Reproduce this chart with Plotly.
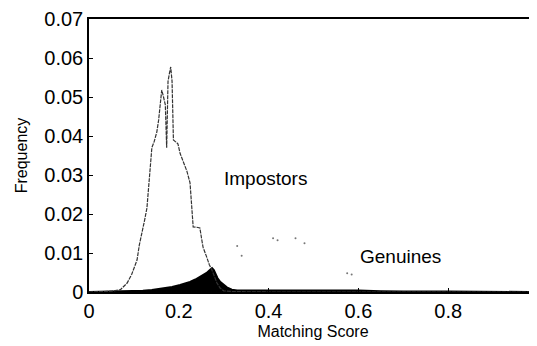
import plotly.graph_objects as go

# Impostor score distribution
imp_x = [0.0, 0.05, 0.07, 0.085, 0.095, 0.107, 0.112, 0.118, 0.124, 0.129, 0.133, 0.136,
         0.14, 0.145, 0.151, 0.155, 0.158, 0.162, 0.166, 0.170, 0.173, 0.176, 0.179,
         0.182, 0.185, 0.188, 0.193, 0.198, 0.203, 0.210, 0.218, 0.225, 0.229, 0.232,
         0.240, 0.247, 0.251, 0.254, 0.262, 0.268, 0.274, 0.280, 0.285, 0.292, 0.300,
         0.32, 0.4, 0.6, 1.0]
imp_y = [0.0, 0.0002, 0.0006, 0.0023, 0.0045, 0.0082, 0.0120, 0.0150, 0.0185, 0.0215, 0.0270, 0.0330,
         0.0370, 0.0385, 0.0410, 0.0440, 0.0467, 0.0518, 0.0500, 0.0480, 0.0370, 0.0540, 0.0560,
         0.0577, 0.0540, 0.0390, 0.0385, 0.0380, 0.0355, 0.0335, 0.0310, 0.0280, 0.0220, 0.0167,
         0.0166, 0.0164, 0.0135, 0.0115, 0.0090, 0.0070, 0.0056, 0.0040, 0.0023, 0.0010, 0.0003,
         0.0001, 0.0, 0.0, 0.0]

# Genuine score distribution
gen_x = [0.0, 0.08, 0.12, 0.14, 0.165, 0.185, 0.203, 0.215, 0.225, 0.237, 0.247, 0.255,
         0.262, 0.268, 0.274, 0.278, 0.281, 0.286, 0.292, 0.300, 0.307, 0.318, 0.33,
         0.36, 0.40, 0.45, 0.50, 0.55, 0.60, 0.65, 0.70, 0.80, 0.90, 1.0]
gen_y = [0.0, 0.0001, 0.0003, 0.0005, 0.0009, 0.0013, 0.0018, 0.0022, 0.0026, 0.0032, 0.0038, 0.0044,
         0.0049, 0.0055, 0.0061, 0.0056, 0.0047, 0.0036, 0.0026, 0.0018, 0.0012, 0.0006, 0.0004,
         0.0004, 0.0004, 0.0004, 0.0004, 0.0004, 0.0004, 0.0002, 0.0001, 0.0001, 0.0001, 0.0]

# faint scattered specks visible in the picture
speck_x = [0.33, 0.34, 0.41, 0.42, 0.46, 0.48, 0.575, 0.585]
speck_y = [0.0118, 0.0093, 0.0138, 0.0133, 0.0138, 0.0125, 0.0048, 0.0045]

y_ticks = [0, 0.01, 0.02, 0.03, 0.04, 0.05, 0.06, 0.07]
y_tick_text = ["0", "0.01", "0.02", "0.03", "0.04", "0.05", "0.06", "0.07"]
x_ticks = [0, 0.2, 0.4, 0.6, 0.8]
x_tick_text = ["0", "0.2", "0.4", "0.6", "0.8"]

FONT = "Liberation Sans, Arial"

fig = go.Figure()
fig.add_trace(go.Scatter(x=gen_x, y=gen_y, mode="lines", fill="tozeroy",
                         line=dict(color="black", width=2), fillcolor="black",
                         showlegend=False))
fig.add_trace(go.Scatter(x=imp_x, y=imp_y, mode="lines",
                         line=dict(color="#333333", width=1.2, dash="4px,1px"),
                         showlegend=False))
fig.add_trace(go.Scatter(x=speck_x, y=speck_y, mode="markers",
                         marker=dict(color="#777777", size=2), showlegend=False))

fig.add_annotation(x=0.296, y=0.0292, text="Impostors", showarrow=False,
                   xanchor="left", yanchor="middle",
                   font=dict(family=FONT, size=19, color="black"))
fig.add_annotation(x=0.599, y=0.0092, text="Genuines", showarrow=False,
                   xanchor="left", yanchor="middle",
                   font=dict(family=FONT, size=19, color="black"))

fig.update_layout(
    width=537, height=346,
    margin=dict(l=81, r=8, t=11, b=62, autoexpand=False),
    paper_bgcolor="white", plot_bgcolor="white",
    font=dict(family=FONT, size=20, color="black"),
    xaxis=dict(range=[0, 0.9978], tickvals=x_ticks, ticktext=x_tick_text,
               automargin=False,
               showgrid=False, zeroline=False, showline=True, linecolor="black",
               linewidth=1.5, mirror=True, ticks="inside", ticklen=4,
               tickcolor="black",
               title=dict(text="Matching Score", font=dict(size=16), standoff=5)),
    yaxis=dict(range=[0, 0.07], tickvals=y_ticks, ticktext=y_tick_text,
               automargin=False,
               showgrid=False, zeroline=False, showline=True, linecolor="black",
               linewidth=1.5, mirror=True, ticks="inside", ticklen=4,
               tickcolor="black",
               title=dict(text="Frequency", font=dict(size=16), standoff=13)),
)

fig.write_html("out.html")
